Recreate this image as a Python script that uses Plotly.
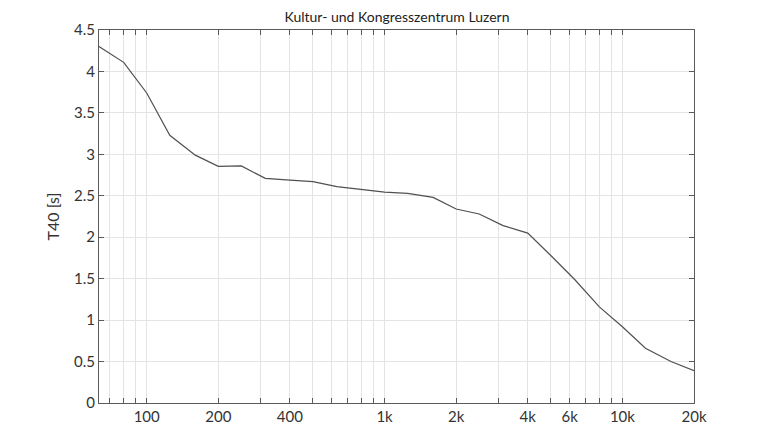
import plotly.graph_objects as go
import math

freqs = [63, 80, 100, 125, 160, 200, 250, 315, 400, 500, 630, 800, 1000, 1250,
         1600, 2000, 2500, 3150, 4000, 5000, 6300, 8000, 10000, 12500, 16000, 20000]
t40 = [4.30, 4.11, 3.74, 3.23, 2.99, 2.855, 2.86, 2.71, 2.69, 2.67, 2.61, 2.58, 2.545, 2.53,
       2.48, 2.34, 2.28, 2.14, 2.05, 1.78, 1.49, 1.16, 0.92, 0.66, 0.50, 0.39]

x_tickvals = [100, 200, 400, 1000, 2000, 4000, 6000, 10000, 20000]
x_ticktext = ["100", "200", "400", "1k", "2k", "4k", "6k", "10k", "20k"]
x_minorvals = [70, 80, 90, 300, 500, 600, 700, 800, 900, 3000, 5000, 7000, 8000, 9000]
y_tickvals = [0, 0.5, 1, 1.5, 2, 2.5, 3, 3.5, 4, 4.5]
y_ticktext = ["0", "0.5", "1", "1.5", "2", "2.5", "3", "3.5", "4", "4.5"]

title_text = "Kultur- und Kongresszentrum Luzern"
y_title = "T40 [s]"

FONT = "Lato"
AX = "#5a5a5a"
GRID = "#e4e4e4"

# page body has an 8px default margin; size the figure to fit the 768x431 window
W, H = 760, 423

fig = go.Figure()
fig.add_trace(go.Scatter(x=freqs, y=t40, mode="lines",
                         line=dict(color="#505050", width=1.2), showlegend=False))

fig.update_layout(
    width=W, height=H,
    margin=dict(l=91, r=74, t=22, b=28),
    paper_bgcolor="white", plot_bgcolor="white",
    font=dict(family=FONT, color="#333333"),
    title=dict(text=title_text, x=389 / W, xanchor="center",
               y=1 - 9.5 / H, yanchor="middle",
               font=dict(family=FONT, size=14, color="#222222")),
)

fig.update_xaxes(
    type="log", range=[math.log10(63), math.log10(20000)],
    tickmode="array", tickvals=x_tickvals, ticktext=x_ticktext,
    ticks="inside", ticklen=5, tickcolor=AX, tickwidth=1,
    showgrid=True, gridcolor=GRID, gridwidth=1,
    minor=dict(tickmode="array", tickvals=x_minorvals, ticks="inside", ticklen=5,
               tickcolor=AX, showgrid=True, gridcolor=GRID, gridwidth=1),
    showline=True, linecolor=AX, linewidth=1.2, mirror="ticks",
    tickfont=dict(family=FONT, size=15, color="#333333"),
    zeroline=False, automargin=False,
)

fig.update_yaxes(
    range=[0, 4.5], tickmode="array", tickvals=y_tickvals, ticktext=y_ticktext,
    ticks="inside", ticklen=5, tickcolor=AX, tickwidth=1,
    showgrid=True, gridcolor=GRID, gridwidth=1,
    showline=True, linecolor=AX, linewidth=1.2, mirror="ticks",
    tickfont=dict(family=FONT, size=15, color="#333333"),
    title=dict(text=y_title, font=dict(family=FONT, size=16, color="#333333"), standoff=10),
    zeroline=False, automargin=False,
)

fig.write_html("out.html")
